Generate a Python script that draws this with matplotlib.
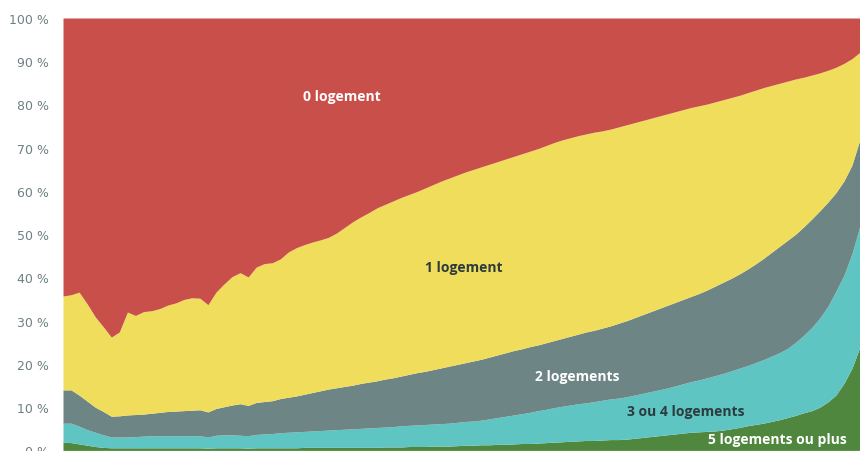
import matplotlib.pyplot as plt

# percentiles (x axis, not labelled in the picture)
percentiles = list(range(1, 101))

# cumulative top of each band, in %
top_5plus = [1.9, 1.8, 1.5, 1.2, 0.9, 0.7, 0.6, 0.6, 0.6, 0.6,
             0.6, 0.6, 0.6, 0.6, 0.6, 0.6, 0.6, 0.6, 0.5, 0.6,
             0.6, 0.6, 0.6, 0.5, 0.6, 0.6, 0.6, 0.6, 0.6, 0.6,
             0.7, 0.7, 0.7, 0.7, 0.7, 0.7, 0.7, 0.7, 0.7, 0.7,
             0.8, 0.8, 0.8, 0.9, 0.9, 0.9, 1.0, 1.0, 1.0, 1.1,
             1.2, 1.2, 1.3, 1.3, 1.4, 1.4, 1.5, 1.6, 1.6, 1.7,
             1.8, 1.9, 2.0, 2.1, 2.2, 2.3, 2.3, 2.4, 2.5, 2.5,
             2.6, 2.8, 3.0, 3.2, 3.4, 3.6, 3.8, 4.0, 4.2, 4.3,
             4.4, 4.5, 4.7, 5.0, 5.3, 5.7, 6.0, 6.3, 6.7, 7.1,
             7.6, 8.1, 8.7, 9.2, 10.0, 11.2, 12.8, 15.5, 19.0, 24.0]

top_3_4 = [6.3, 6.3, 5.6, 4.8, 4.2, 3.6, 3.1, 3.1, 3.1, 3.2,
           3.3, 3.4, 3.4, 3.4, 3.4, 3.4, 3.4, 3.4, 3.1, 3.5,
           3.6, 3.6, 3.5, 3.4, 3.7, 3.8, 3.9, 4.1, 4.2, 4.3,
           4.4, 4.5, 4.6, 4.7, 4.8, 4.9, 5.0, 5.1, 5.2, 5.3,
           5.4, 5.5, 5.7, 5.8, 5.9, 6.0, 6.1, 6.2, 6.3, 6.5,
           6.7, 6.8, 7.0, 7.3, 7.6, 7.9, 8.2, 8.5, 8.8, 9.2,
           9.5, 9.9, 10.2, 10.5, 10.8, 11.0, 11.3, 11.6, 11.9, 12.1,
           12.4, 12.8, 13.2, 13.6, 14.0, 14.4, 14.9, 15.4, 15.9, 16.3,
           16.8, 17.3, 17.8, 18.4, 19.0, 19.6, 20.3, 21.0, 21.8, 22.6,
           23.6, 25.0, 26.6, 28.4, 30.6, 33.3, 36.8, 40.5, 45.5, 52.0]

top_2 = [14.0, 14.0, 12.8, 11.4, 10.0, 9.0, 7.9, 8.0, 8.2, 8.3,
         8.4, 8.6, 8.8, 9.0, 9.1, 9.2, 9.3, 9.4, 8.9, 9.7,
         10.1, 10.5, 10.8, 10.4, 11.1, 11.3, 11.5, 12.0, 12.3, 12.6,
         13.0, 13.4, 13.8, 14.2, 14.5, 14.8, 15.1, 15.5, 15.8, 16.1,
         16.5, 16.8, 17.2, 17.6, 18.0, 18.3, 18.7, 19.1, 19.5, 19.9,
         20.3, 20.7, 21.1, 21.6, 22.1, 22.6, 23.1, 23.5, 24.0, 24.4,
         24.9, 25.4, 25.9, 26.4, 26.9, 27.4, 27.8, 28.3, 28.8, 29.4,
         30.0, 30.7, 31.4, 32.1, 32.8, 33.5, 34.2, 34.9, 35.6, 36.3,
         37.1, 38.0, 38.9, 39.8, 40.8, 41.9, 43.1, 44.4, 45.8, 47.2,
         48.6, 50.0, 51.7, 53.5, 55.4, 57.4, 59.6, 62.3, 66.0, 72.0]

top_1 = [35.7, 36.0, 36.6, 33.9, 30.9, 28.6, 26.2, 27.4, 32.0, 31.2,
         32.1, 32.3, 32.8, 33.6, 34.1, 34.9, 35.3, 35.2, 33.7, 36.6,
         38.5, 40.2, 41.1, 40.1, 42.4, 43.2, 43.4, 44.3, 45.9, 46.9,
         47.6, 48.2, 48.7, 49.3, 50.3, 51.6, 52.9, 54.0, 55.0, 56.1,
         56.9, 57.7, 58.5, 59.2, 59.9, 60.7, 61.5, 62.3, 63.0, 63.7,
         64.4, 65.0, 65.6, 66.2, 66.8, 67.4, 68.0, 68.6, 69.2, 69.8,
         70.5, 71.2, 71.8, 72.3, 72.8, 73.2, 73.6, 73.9, 74.3, 74.8,
         75.3, 75.8, 76.3, 76.8, 77.3, 77.8, 78.3, 78.8, 79.3, 79.7,
         80.1, 80.6, 81.1, 81.6, 82.1, 82.7, 83.3, 83.9, 84.4, 84.9,
         85.4, 85.9, 86.3, 86.8, 87.3, 87.9, 88.6, 89.5, 90.6, 92.1]

top_0 = [100.0] * 100

bands = [
    ([0.0] * 100, top_5plus, "#4e873d"),
    (top_5plus, top_3_4, "#5ec5c2"),
    (top_3_4, top_2, "#6e8586"),
    (top_2, top_1, "#f1dd5c"),
    (top_1, top_0, "#c9504a"),
]

yticks = [0, 10, 20, 30, 40, 50, 60, 70, 80, 90, 100]

fig = plt.figure(figsize=(8.6, 4.52), dpi=100)
ax = fig.add_axes([63 / 860, 0.6 / 452, 1 - 63 / 860, (451.4 - 19) / 452])

for low, high, colour in bands:
    ax.fill_between(percentiles, low, high, color=colour, linewidth=0)

ax.set_xlim(1, 100)
ax.set_ylim(0, 100)
ax.set_xticks([])
ax.set_yticks(yticks)
ax.set_yticklabels([f"{v} %" for v in yticks])
ax.tick_params(axis="y", length=0, pad=10, labelsize=9, labelcolor="#6d8081")
for s in ax.spines.values():
    s.set_visible(False)

font = dict(family=["Open Sans", "DejaVu Sans"], fontsize=10, fontweight="bold",
            ha="center", va="center")
ax.text(35.7, 82.0, "0 logement", color="white", **font)
ax.text(50.8, 42.3, "1 logement", color="#2c3b3d", **font)
ax.text(64.9, 17.2, "2 logements", color="white", **font)
ax.text(78.4, 9.1, "3 ou 4 logements", color="#2c3b3d", **font)
ax.text(89.7, 2.6, "5 logements ou plus", color="white", **font)

plt.savefig("out.png", dpi=100)
plt.close()
